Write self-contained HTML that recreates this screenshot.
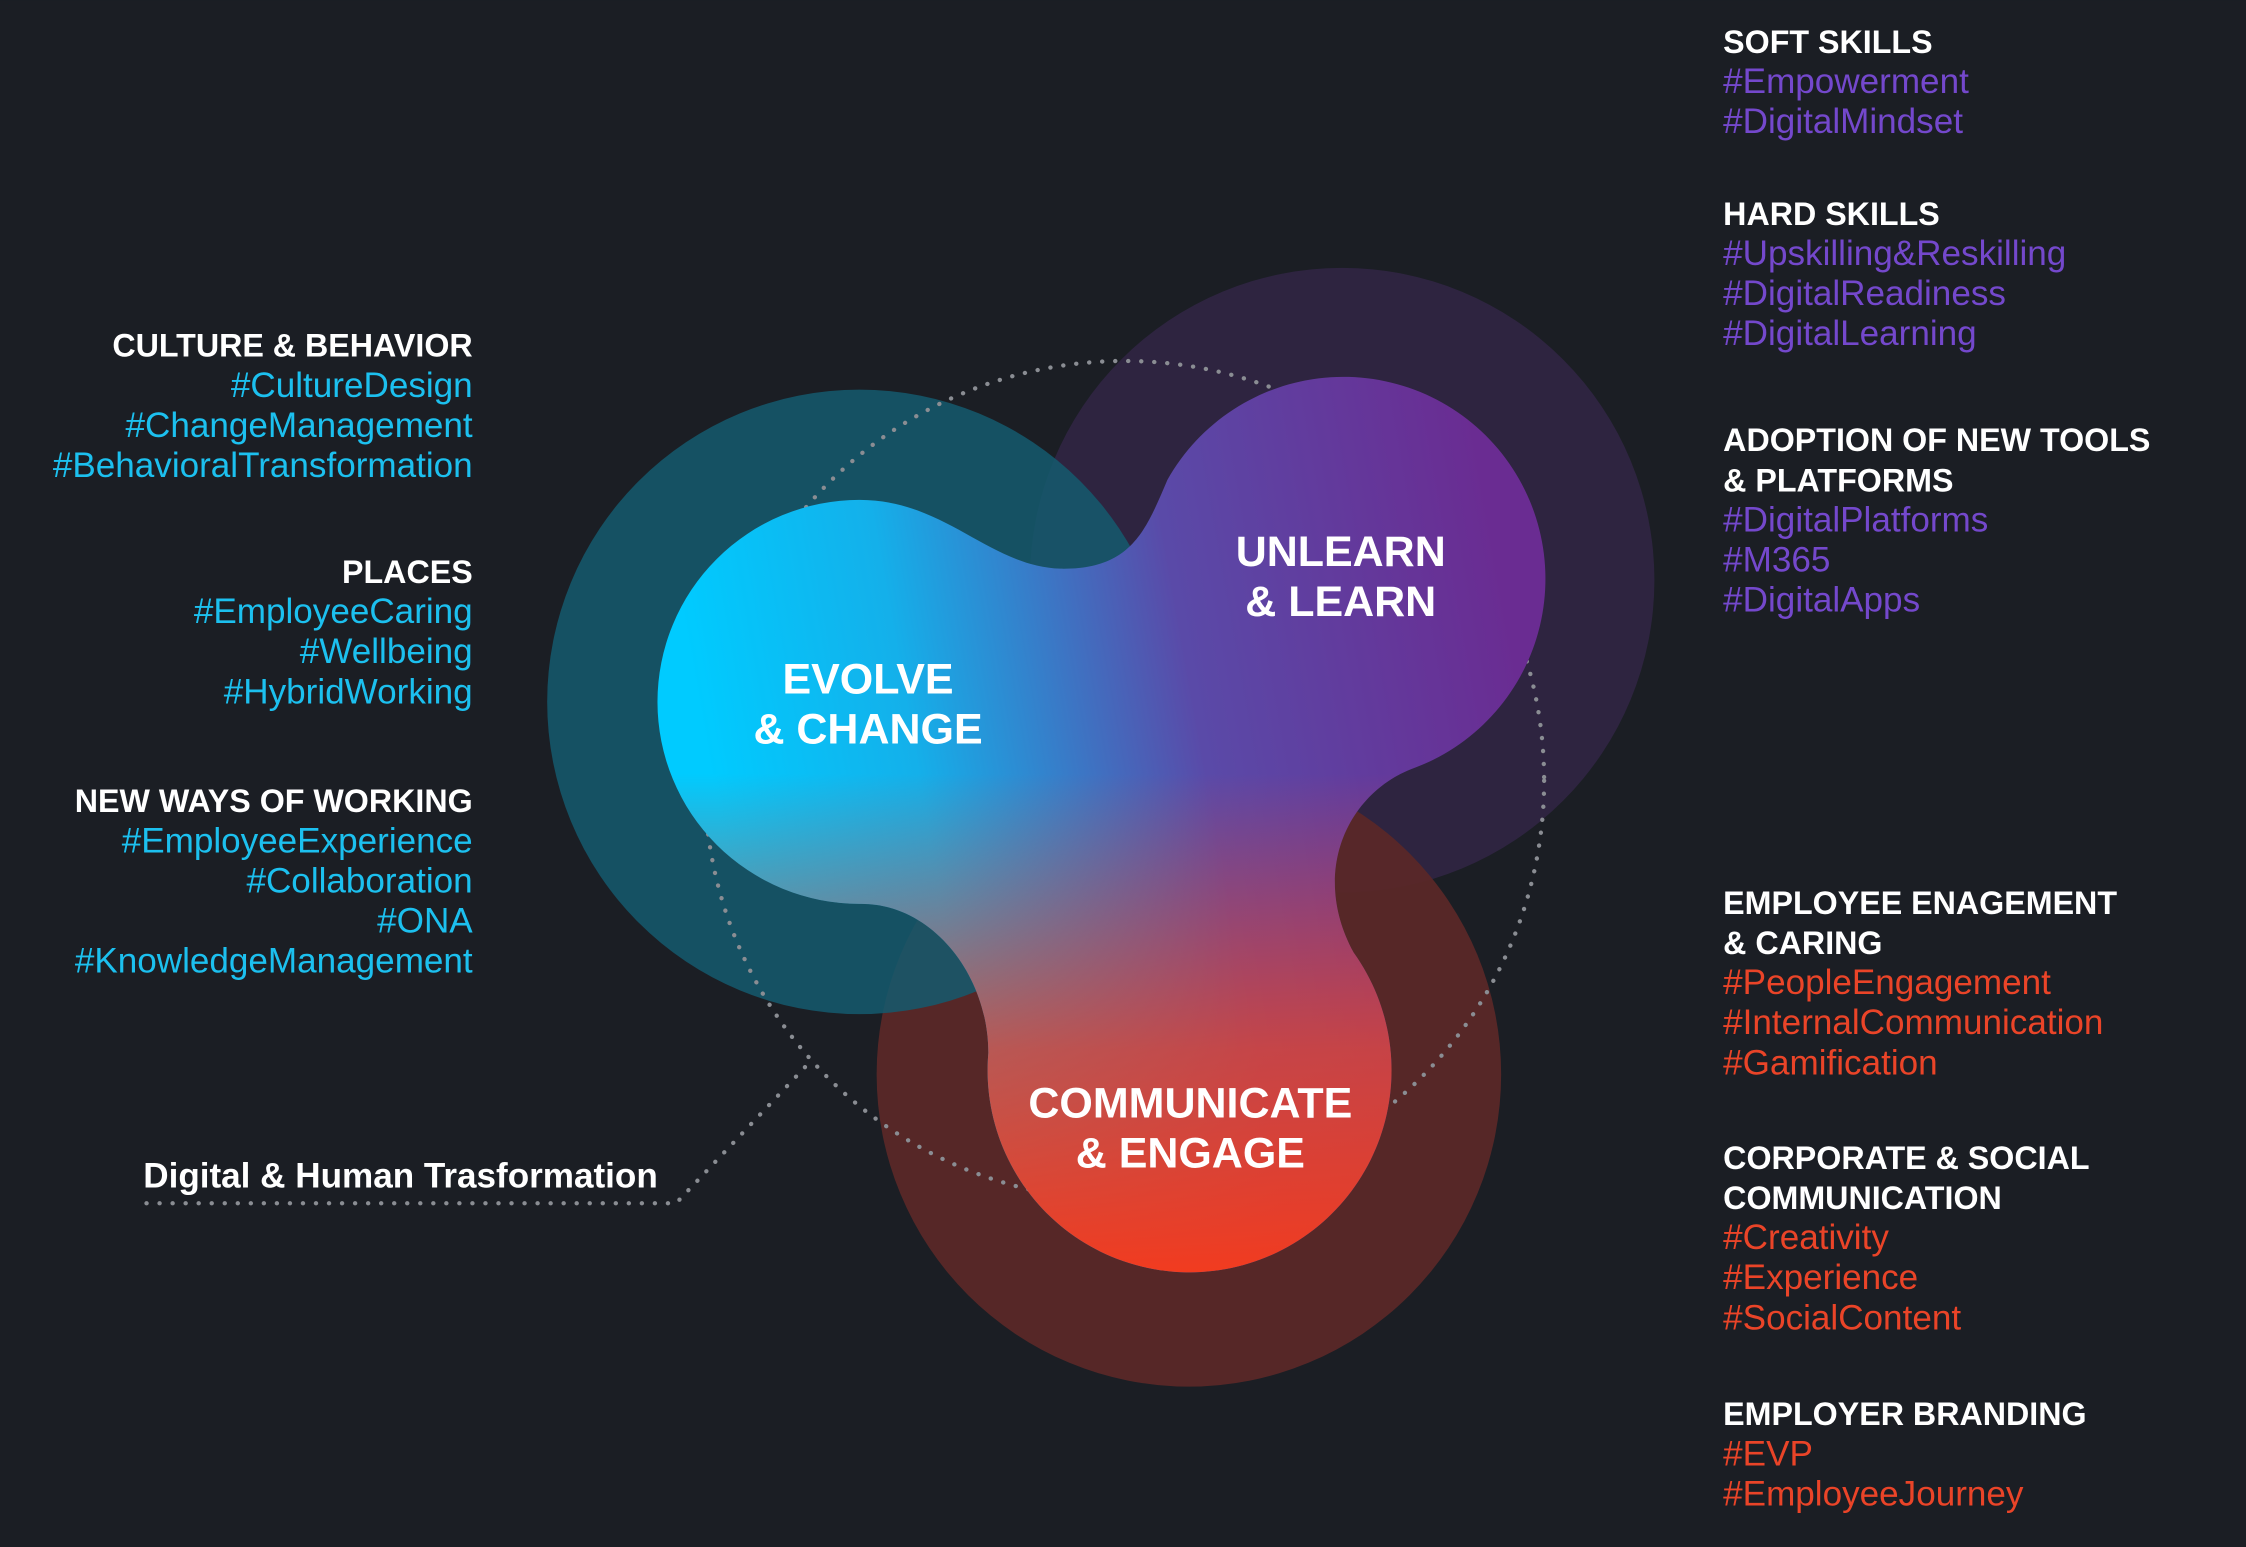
<!DOCTYPE html>
<html><head><meta charset="utf-8"><style>
html,body{margin:0;padding:0;background:#1b1e24;}
svg{display:block;}
text{font-family:"Liberation Sans",sans-serif;}
.h{font-weight:bold;font-size:22.5px;fill:#ffffff;}
.c{font-size:24.5px;fill:#1cc0ef;}
.p{font-size:24.5px;fill:#7448cc;}
.r{font-size:24.5px;fill:#ea4428;}
.big{font-weight:bold;font-size:30px;fill:#ffffff;text-anchor:middle;}
</style></head><body>
<svg width="2246" height="1547" viewBox="0 0 1568 1080" xmlns="http://www.w3.org/2000/svg">
<defs>
<linearGradient id="g1" x1="480" y1="450" x2="1040" y2="350" gradientUnits="userSpaceOnUse">
<stop offset="0" stop-color="#00cbff"/><stop offset="0.25" stop-color="#14b0ea"/><stop offset="0.6" stop-color="#5a4aa8"/><stop offset="1" stop-color="#6a2c92"/>
</linearGradient>
<linearGradient id="g2" x1="0" y1="540" x2="0" y2="890" gradientUnits="userSpaceOnUse">
<stop offset="0" stop-color="#f03c20" stop-opacity="0"/><stop offset="0.55" stop-color="#e04430" stop-opacity="0.8"/><stop offset="1" stop-color="#f23b1f" stop-opacity="1"/>
</linearGradient>
</defs>
<rect width="1568" height="1080" fill="#1b1e24"/>
<circle cx="937" cy="405" r="218" fill="#2e2440"/>
<circle cx="830" cy="750" r="218" fill="#5a2828" fill-opacity="0.95"/>
<circle cx="600" cy="490" r="218" fill="#145a6e" fill-opacity="0.85"/>
<circle cx="785" cy="545" r="293" fill="none" stroke="#8a8d93" stroke-width="3" stroke-dasharray="0.1 9" stroke-linecap="round"/>
<path d="M562 745 L472 840 L100 840" fill="none" stroke="#8a8d93" stroke-width="3" stroke-dasharray="0.1 9" stroke-linecap="round"/>
<path d="M600 349 C660 349 690 395 740 397 C790 398 800 370 815 335 A141 141 0 1 1 985 537 C940 555 915 610 945 665 A141 141 0 1 1 690 735 C690 680 650 630 600 631 A141 141 0 0 1 600 349 Z" fill="url(#g1)"/>
<path d="M600 349 C660 349 690 395 740 397 C790 398 800 370 815 335 A141 141 0 1 1 985 537 C940 555 915 610 945 665 A141 141 0 1 1 690 735 C690 680 650 630 600 631 A141 141 0 0 1 600 349 Z" fill="url(#g2)"/>
<text class="big" x="606" y="484">EVOLVE</text>
<text class="big" x="606" y="519">&amp; CHANGE</text>
<text class="big" x="936" y="395">UNLEARN</text>
<text class="big" x="936" y="430">&amp; LEARN</text>
<text class="big" x="831" y="780">COMMUNICATE</text>
<text class="big" x="831" y="815">&amp; ENGAGE</text>
<g text-anchor="end">
<text class="h" x="330" y="249">CULTURE &amp; BEHAVIOR</text>
<text class="c" x="330" y="277">#CultureDesign</text>
<text class="c" x="330" y="305">#ChangeManagement</text>
<text class="c" x="330" y="333">#BehavioralTransformation</text>
<text class="h" x="330" y="407">PLACES</text>
<text class="c" x="330" y="435">#EmployeeCaring</text>
<text class="c" x="330" y="463">#Wellbeing</text>
<text class="c" x="330" y="491">#HybridWorking</text>
<text class="h" x="330" y="567">NEW WAYS OF WORKING</text>
<text class="c" x="330" y="595">#EmployeeExperience</text>
<text class="c" x="330" y="623">#Collaboration</text>
<text class="c" x="330" y="651">#ONA</text>
<text class="c" x="330" y="679">#KnowledgeManagement</text>
</g>
<text class="h" x="100" y="829" style="font-size:24.5px">Digital &amp; Human Trasformation</text>
<g>
<text class="h" x="1203" y="37">SOFT SKILLS</text>
<text class="p" x="1203" y="65">#Empowerment</text>
<text class="p" x="1203" y="93">#DigitalMindset</text>
<text class="h" x="1203" y="157">HARD SKILLS</text>
<text class="p" x="1203" y="185">#Upskilling&amp;Reskilling</text>
<text class="p" x="1203" y="213">#DigitalReadiness</text>
<text class="p" x="1203" y="241">#DigitalLearning</text>
<text class="h" x="1203" y="315">ADOPTION OF NEW TOOLS</text>
<text class="h" x="1203" y="343">&amp; PLATFORMS</text>
<text class="p" x="1203" y="371">#DigitalPlatforms</text>
<text class="p" x="1203" y="399">#M365</text>
<text class="p" x="1203" y="427">#DigitalApps</text>
<text class="h" x="1203" y="638">EMPLOYEE ENAGEMENT</text>
<text class="h" x="1203" y="666">&amp; CARING</text>
<text class="r" x="1203" y="694">#PeopleEngagement</text>
<text class="r" x="1203" y="722">#InternalCommunication</text>
<text class="r" x="1203" y="750">#Gamification</text>
<text class="h" x="1203" y="816">CORPORATE &amp; SOCIAL</text>
<text class="h" x="1203" y="844">COMMUNICATION</text>
<text class="r" x="1203" y="872">#Creativity</text>
<text class="r" x="1203" y="900">#Experience</text>
<text class="r" x="1203" y="928">#SocialContent</text>
<text class="h" x="1203" y="995">EMPLOYER BRANDING</text>
<text class="r" x="1203" y="1023">#EVP</text>
<text class="r" x="1203" y="1051">#EmployeeJourney</text>
</g>
</svg>
</body></html>
